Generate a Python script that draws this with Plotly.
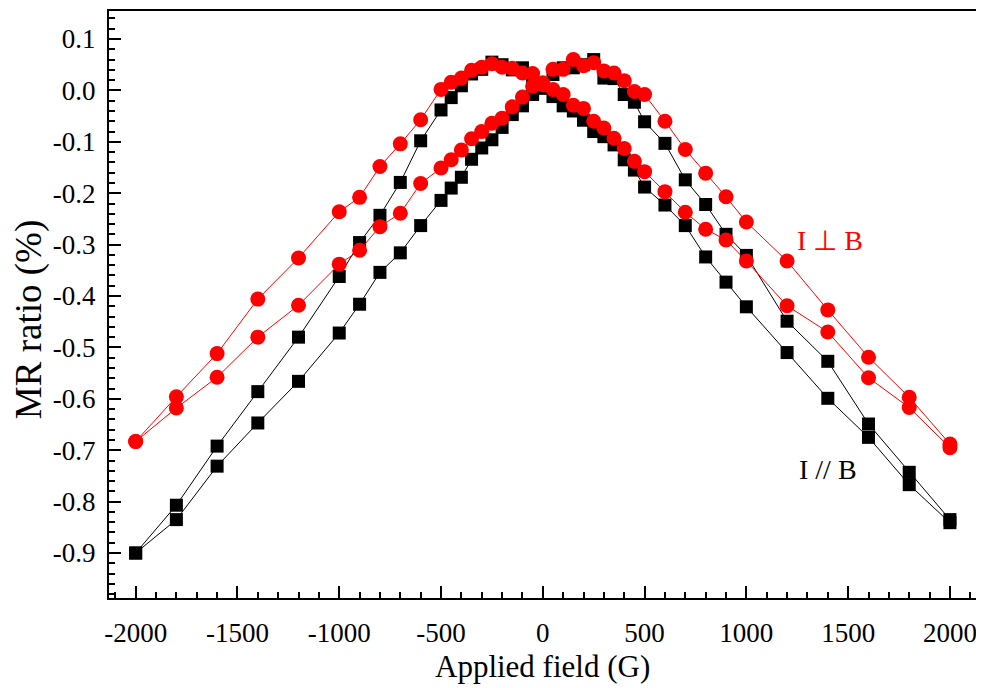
import plotly.graph_objects as go

field = [-2000, -1800, -1600, -1400, -1200, -1000, -900, -800, -700, -600, -500, -450, -400, -350,
         -300, -250, -200, -150, -100, -50, 0, 50, 100, 150, 200, 250, 300, 350, 400, 450, 500,
         600, 700, 800, 900, 1000, 1200, 1400, 1600, 1800, 2000]

# I // B, sweep up (-2000 -> 2000)
par_up = [-0.900, -0.835, -0.731, -0.647, -0.566, -0.472, -0.416, -0.354, -0.316, -0.263, -0.214,
          -0.190, -0.169, -0.134, -0.112, -0.096, -0.072, -0.047, -0.030, -0.008, 0.008, 0.031,
          0.044, 0.044, 0.050, 0.060, 0.024, 0.023, -0.008, -0.023, -0.061, -0.103, -0.174,
          -0.222, -0.280, -0.321, -0.449, -0.527, -0.649, -0.743, -0.835]
# I // B, sweep down (2000 -> -2000), listed on the same field order
par_down = [-0.900, -0.807, -0.692, -0.586, -0.480, -0.362, -0.296, -0.243, -0.179, -0.098, -0.038,
            -0.014, 0.009, 0.032, 0.041, 0.055, 0.050, 0.040, 0.044, 0.024, 0.004, -0.012,
            -0.030, -0.040, -0.058, -0.080, -0.090, -0.106, -0.135, -0.155, -0.188, -0.223,
            -0.263, -0.324, -0.373, -0.421, -0.510, -0.599, -0.675, -0.767, -0.841]

# I ⊥ B, sweep up
perp_up = [-0.683, -0.618, -0.558, -0.480, -0.418, -0.338, -0.311, -0.265, -0.239, -0.181, -0.151,
           -0.135, -0.116, -0.094, -0.080, -0.064, -0.054, -0.032, -0.013, 0.008, 0.015, 0.041,
           0.041, 0.060, 0.048, 0.054, 0.038, 0.034, 0.019, -0.002, -0.008, -0.060, -0.115,
           -0.161, -0.207, -0.256, -0.332, -0.427, -0.519, -0.597, -0.688]
# I ⊥ B, sweep down
perp_down = [-0.683, -0.596, -0.512, -0.406, -0.326, -0.236, -0.208, -0.148, -0.104, -0.057, 0.002,
             0.016, 0.024, 0.039, 0.045, 0.052, 0.045, 0.043, 0.034, 0.033, 0.011, 0.002,
             -0.008, -0.029, -0.035, -0.060, -0.073, -0.093, -0.113, -0.138, -0.158, -0.197,
             -0.237, -0.270, -0.291, -0.332, -0.419, -0.470, -0.559, -0.617, -0.695]

x_ticks = [-2000, -1500, -1000, -500, 0, 500, 1000, 1500, 2000]
x_ticktext = ["-2000", "-1500", "-1000", "-500", "0", "500", "1000", "1500", "2000"]
y_ticks = [0.1, 0.0, -0.1, -0.2, -0.3, -0.4, -0.5, -0.6, -0.7, -0.8, -0.9]
y_ticktext = ["0.1", "0.0", "-0.1", "-0.2", "-0.3", "-0.4", "-0.5", "-0.6", "-0.7", "-0.8", "-0.9"]

FONT = "Liberation Serif, Times New Roman, serif"
BLACK = "#000000"
RED = "#ff0000"

fig = go.Figure()
for ys in (par_up, par_down):
    fig.add_trace(go.Scatter(x=field, y=ys, mode="lines+markers",
                             line=dict(color=BLACK, width=1),
                             marker=dict(symbol="square", size=13, color=BLACK),
                             showlegend=False))
for ys in (perp_up, perp_down):
    fig.add_trace(go.Scatter(x=field, y=ys, mode="lines+markers",
                             line=dict(color=RED, width=1),
                             marker=dict(symbol="circle", size=15, color=RED),
                             showlegend=False))

fig.add_annotation(x=1410, y=-0.292, text="I \u22a5 B", showarrow=False,
                   xanchor="center", yanchor="middle",
                   font=dict(family=FONT, size=28, color=RED))
fig.add_annotation(x=1400, y=-0.737, text="I // B", showarrow=False,
                   xanchor="center", yanchor="middle",
                   font=dict(family=FONT, size=28, color=BLACK))

# plot area: x 101..968, y 3..590
fig.add_annotation(x=0.5, y=-0.1165, xref="paper", yref="paper", text="Applied field (G)",
                   xanchor="center", yanchor="middle",
                   showarrow=False, font=dict(family=FONT, size=31, color=BLACK))
fig.add_annotation(x=-0.093, y=0.474, xref="paper", yref="paper", text="MR ratio (%)",
                   xanchor="center", yanchor="middle",
                   textangle=-90, showarrow=False, font=dict(family=FONT, size=37, color=BLACK))

fig.update_layout(
    width=984, height=688,
    margin=dict(l=101, r=16, t=3, b=98),
    paper_bgcolor="white", plot_bgcolor="white",
    font=dict(family=FONT, size=27, color=BLACK),
    xaxis=dict(range=[-2131, 2128], tickmode="array", tickvals=x_ticks, ticktext=x_ticktext,
               ticks="inside", ticklen=12, tickwidth=2, tickcolor=BLACK,
               minor=dict(ticks="inside", ticklen=6, tickwidth=1.5, tickcolor=BLACK,
                          tick0=0, dtick=100),
               showline=True, linewidth=2, linecolor=BLACK, mirror=True,
               showgrid=False, zeroline=False, ticklabelstandoff=10, automargin=False),
    yaxis=dict(range=[-0.9875, 0.1545], tickmode="array", tickvals=y_ticks, ticktext=y_ticktext,
               ticks="inside", ticklen=12, tickwidth=2, tickcolor=BLACK,
               minor=dict(ticks="inside", ticklen=6, tickwidth=1.5, tickcolor=BLACK,
                          tick0=0, dtick=0.02),
               showline=True, linewidth=2, linecolor=BLACK, mirror=True,
               showgrid=False, zeroline=False, ticklabelstandoff=6, automargin=False),
)

fig.write_html("out.html")
